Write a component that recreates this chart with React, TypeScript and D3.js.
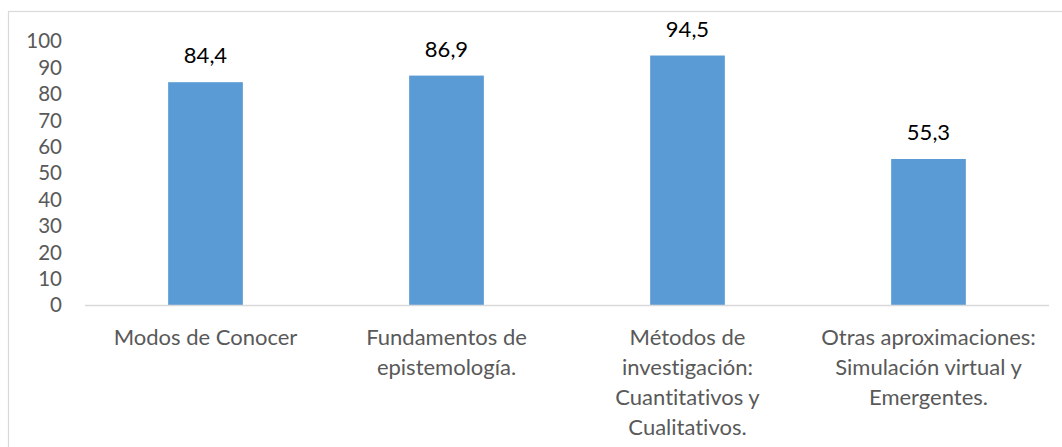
import React, { useEffect, useRef } from 'react';
import * as d3 from 'd3';

// chart data
const categories = [
  'Modos de Conocer',
  'Fundamentos de epistemología.',
  'Métodos de investigación: Cuantitativos y Cualitativos.',
  'Otras aproximaciones: Simulación virtual y Emergentes.',
];
const categoryLines = [
  ['Modos de Conocer'],
  ['Fundamentos de', 'epistemología.'],
  ['Métodos de', 'investigación:', 'Cuantitativos y', 'Cualitativos.'],
  ['Otras aproximaciones:', 'Simulación virtual y', 'Emergentes.'],
];
const values = [84.4, 86.9, 94.5, 55.3];
const yTicks = [0, 10, 20, 30, 40, 50, 60, 70, 80, 90, 100];

const W = 1062;
const H = 447;
const FONT = 'Lato, "Open Sans", sans-serif';

const App: React.FC = () => {
  const svgRef = useRef<SVGSVGElement>(null);

  useEffect(() => {
    if (!svgRef.current) return;
    const svg = d3.select(svgRef.current);
    svg.selectAll('*').remove();

    const plot = { left: 85, right: 1049, top: 41, bottom: 305 };

    // outer frame (cropped on right and bottom)
    svg.append('rect')
      .attr('x', 8.5)
      .attr('y', 11.5)
      .attr('width', W)
      .attr('height', H)
      .attr('fill', '#fff')
      .attr('stroke', '#d9d9d9')
      .attr('stroke-width', 1.2);

    const x = d3.scaleBand<string>()
      .domain(categories)
      .range([plot.left, plot.right])
      .paddingInner(0.69)
      .paddingOuter(0.345);

    const y = d3.scaleLinear()
      .domain([0, 100])
      .range([plot.bottom, plot.top]);

    // y tick labels
    svg.append('g')
      .selectAll('text')
      .data(yTicks)
      .join('text')
      .attr('x', 62)
      .attr('y', d => y(d))
      .attr('dy', '0.36em')
      .attr('text-anchor', 'end')
      .attr('font-family', FONT)
      .attr('font-size', 20.5)
      .attr('fill', '#595959')
      .text(d => d);

    // bars
    svg.append('g')
      .selectAll('rect')
      .data(values)
      .join('rect')
      .attr('x', (_, i) => x(categories[i])!)
      .attr('y', d => y(d))
      .attr('width', x.bandwidth())
      .attr('height', d => y(0) - y(d))
      .attr('fill', '#5b9bd5');

    // baseline
    svg.append('line')
      .attr('x1', plot.left)
      .attr('x2', plot.right)
      .attr('y1', y(0) + 0.5)
      .attr('y2', y(0) + 0.5)
      .attr('stroke', '#d9d9d9')
      .attr('stroke-width', 1.5);

    // value labels
    svg.append('g')
      .selectAll('text')
      .data(values)
      .join('text')
      .attr('x', (_, i) => x(categories[i])! + x.bandwidth() / 2)
      .attr('y', d => y(d) - 19)
      .attr('text-anchor', 'middle')
      .attr('font-family', FONT)
      .attr('font-size', 22)
      .attr('fill', '#000')
      .text(d => d.toFixed(1).replace('.', ','));

    // category labels
    const cat = svg.append('g')
      .selectAll('text')
      .data(categoryLines)
      .join('text')
      .attr('text-anchor', 'middle')
      .attr('font-family', FONT)
      .attr('font-size', 22)
      .attr('fill', '#595959')
      .style('font-variant-ligatures', 'none');

    cat.each(function (lines, i) {
      const cx = x(categories[i])! + x.bandwidth() / 2;
      d3.select(this)
        .selectAll('tspan')
        .data(lines)
        .join('tspan')
        .attr('x', cx)
        .attr('y', (_, j) => 345 + j * 30)
        .text(d => d);
    });
  }, []);

  return (
    <div style={{ position: 'absolute', left: 0, top: 0, width: W, height: H, overflow: 'hidden', background: '#fff' }}>
      <svg ref={svgRef} width={W} height={H} style={{ display: 'block' }} />
    </div>
  );
};

export default App;
